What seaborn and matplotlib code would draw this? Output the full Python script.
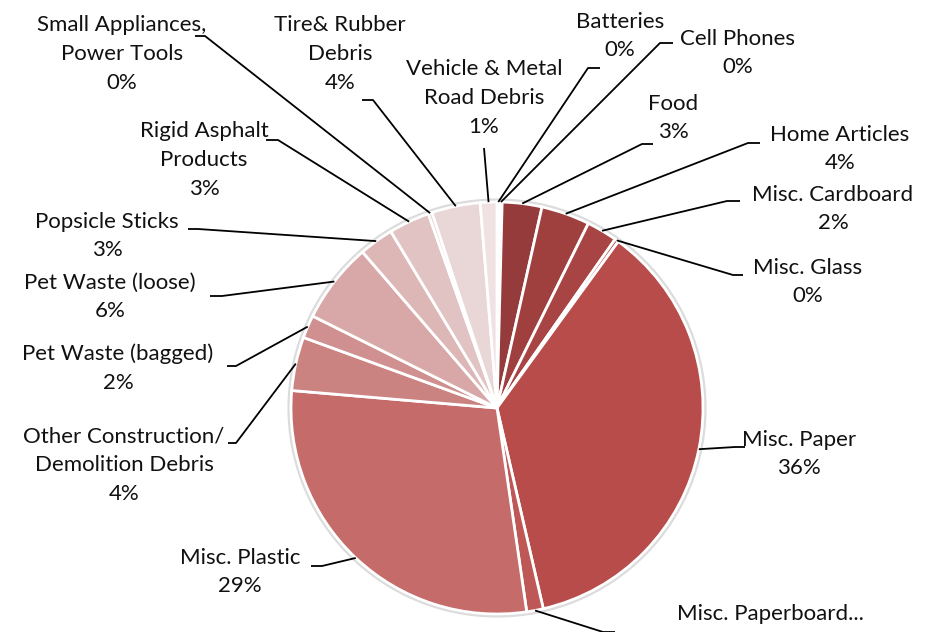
import numpy as np
import matplotlib
matplotlib.use("Agg")
import matplotlib.pyplot as plt
import seaborn as sns
from matplotlib.patches import Circle

# ---- data ----
categories = [
    "Batteries", "Cell Phones", "Food", "Home Articles", "Misc. Cardboard",
    "Misc. Glass", "Misc. Paper", "Misc. Paperboard", "Misc. Plastic",
    "Other Construction/\nDemolition Debris", "Pet Waste (bagged)",
    "Pet Waste (loose)", "Popsicle Sticks", "Rigid Asphalt\nProducts",
    "Small Appliances,\nPower Tools", "Tire& Rubber\nDebris",
    "Vehicle & Metal\nRoad Debris",
]
shares = [0.2, 0.2, 3.1, 3.8, 2.4, 0.3, 36.3, 1.3, 28.6, 4.2, 1.8, 6.3, 2.7, 3.2, 0.3, 3.8, 1.3]

colors = ["#8E3636", "#913838", "#953B3B", "#9F3F3E", "#A84443", "#AF4745",
          "#B84C4A", "#BE5856", "#C56B6A", "#CB8381", "#D0908F", "#D8A8A8",
          "#DDB6B6", "#E2C3C3", "#E5CCCC", "#E9D6D6", "#F0E2E2"]

# ---- layout (pixel coords, y measured from top) ----
W, H = 925, 632
CX, CY, R = 497, 408, 206
text_pos = [(620, 36), (738, 53), (673, 118), (840, 149), (833, 209),
            (808, 282), (799, 454), (770, 614), (240, 572), (124, 465),
            (118, 368), (110, 297), (107, 236), (204, 160), (122, 54),
            (340, 54), (484, 98)]
# leader line: elbow point then end point of the short horizontal stub
elbows = [(588, 68), (660, 43), (642, 144), (748, 143), (727, 201),
          (733, 275), (735, 447), (603, 632), (322, 566), (236, 443),
          (236, 366), (222, 296), (198, 229), (278, 140), (205, 36),
          (373, 100), (484, 148)]
stubs = [(600, 68), (673, 43), (653, 144), (760, 143), (740, 201),
         (743, 275), (745, 447), (615, 632), (311, 566), (228, 443),
         (227, 366), (210, 296), (188, 229), (266, 140), (195, 36),
         (362, 100), (484, 148)]

sns.set_theme(style="white")
plt.rcParams["font.family"] = ["Lato", "DejaVu Sans"]

fig = plt.figure(figsize=(W / 100, H / 100), dpi=100)
ax = fig.add_axes([0, 0, 1, 1])

ax.add_patch(Circle((CX, H - CY), R + 1.5, facecolor="none", edgecolor="#dcdcdc", lw=3, zorder=0))
wedges, _ = ax.pie(shares, colors=colors, startangle=90, counterclock=False,
                   center=(CX, H - CY), radius=R,
                   wedgeprops=dict(edgecolor="white", linewidth=2))

total = sum(shares)
for i, (w, name) in enumerate(zip(wedges, categories)):
    mid = np.deg2rad((w.theta1 + w.theta2) / 2)
    ax_x = CX + R * np.cos(mid)
    ax_y = (H - CY) + R * np.sin(mid)
    ex, ey = elbows[i]
    sx, sy = stubs[i]
    ax.plot([ax_x, ex, sx], [ax_y, H - ey, H - sy], color="black", lw=1.3,
            solid_capstyle="butt", zorder=3)

    if name == "Misc. Paperboard":
        label = "Misc. Paperboard..."
    else:
        label = f"{name}\n{round(shares[i] / total * 100):d}%"
    tx, ty = text_pos[i]
    ax.text(tx, H - ty, label, ha="center", va="center", fontsize=16,
            linespacing=1.55, color="#111111")

ax.set_xlim(0, W)
ax.set_ylim(0, H)
ax.set_aspect("equal")
ax.axis("off")

plt.savefig("out.png", dpi=100)
plt.close()
